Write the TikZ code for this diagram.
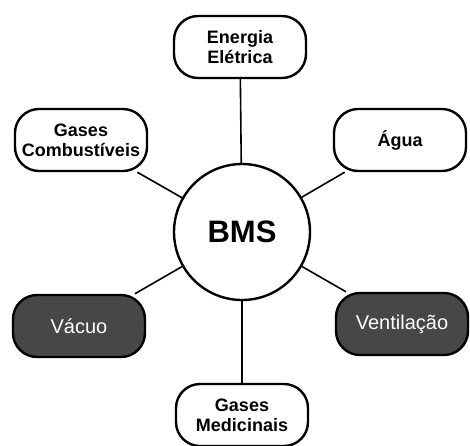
\documentclass[tikz,border=0pt]{standalone}
\usepackage{fontspec}
\setmainfont{Liberation Sans}
\begin{document}
\begin{tikzpicture}[x=1pt,y=-1pt,
  box/.style={draw=black, line width=2.4pt, rounded corners=24pt, fill=white,
    minimum width=132pt, minimum height=62pt, align=center,
    font=\bfseries\fontsize{18}{20}\selectfont, inner sep=2pt},
  darkbox/.style={box, fill=black!72, text=white, font=\fontsize{20}{22}\selectfont},
  hub/.style={draw=black, line width=2.4pt, circle, fill=white, minimum size=136pt,
    font=\bfseries\fontsize{31}{33}\selectfont},
  link/.style={draw=black, line width=1.6pt}]
\useasboundingbox (0,0) rectangle (470,445);
\node[hub] (bms) at (242,232) {BMS};
\node[box] (ene) at (240,47) {Energia\\Elétrica};
\node[box] (gcb) at (81,140) {Gases\\Combustíveis};
\node[box] (agu) at (400,140) {Água};
\node[darkbox] (vac) at (79,326) {Vácuo};
\node[darkbox] (ven) at (402,324) {Ventilação};
\node[box] (gmd) at (242,415) {Gases\\Medicinais};
\draw[link] (bms) -- (ene);
\draw[link] (bms) -- (gcb);
\draw[link] (bms) -- (agu);
\draw[link] (bms) -- (vac);
\draw[link] (bms) -- (ven);
\draw[link] (bms) -- (gmd);
\end{tikzpicture}
\end{document}
